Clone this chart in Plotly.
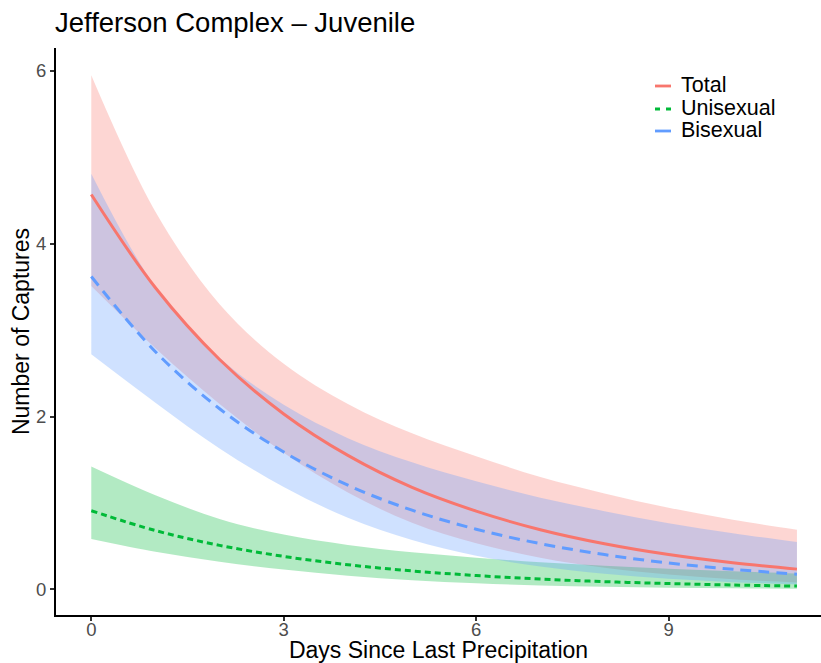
import plotly.graph_objects as go

# ---- data ----
days = [0, 1, 2, 3, 4, 5, 6, 7, 8, 9, 10, 11]

total_fit = [4.57, 3.49, 2.66, 2.03, 1.55, 1.18, 0.905, 0.69, 0.527, 0.402, 0.307, 0.234]
total_upper = [5.95, 4.37, 3.30, 2.61, 2.145, 1.805, 1.54, 1.30, 1.11, 0.945, 0.806, 0.69]
total_lower = [3.51, 2.79, 2.145, 1.58, 1.12, 0.771, 0.533, 0.366, 0.250, 0.171, 0.117, 0.0795]

uni_fit = [0.91, 0.68, 0.509, 0.381, 0.285, 0.213, 0.160, 0.119, 0.089, 0.067, 0.050, 0.0374]
uni_upper = [1.423, 1.09, 0.814, 0.634, 0.514, 0.429, 0.367, 0.314, 0.273, 0.239, 0.209, 0.182]
uni_lower = [0.582, 0.434, 0.318, 0.229, 0.158, 0.106, 0.0698, 0.0451, 0.029, 0.0188, 0.012, 0.0077]

bi_fit = [3.62, 2.75, 2.09, 1.59, 1.205, 0.916, 0.696, 0.529, 0.402, 0.305, 0.232, 0.176]
bi_upper = [4.81, 3.50, 2.68, 2.135, 1.75, 1.47, 1.25, 1.06, 0.904, 0.765, 0.650, 0.548]
bi_lower = [2.72, 2.16, 1.63, 1.184, 0.828, 0.570, 0.388, 0.264, 0.179, 0.1216, 0.0828, 0.0566]

series_names = ["Total", "Unisexual", "Bisexual"]
x_ticks = [0, 3, 6, 9]
y_ticks = [0, 2, 4, 6]

# ---- styles ----
FONT = "Liberation Sans, Arial, Helvetica, sans-serif"
colors = {"Total": "#F8766D", "Unisexual": "#00BA38", "Bisexual": "#619CFF"}
fills = {"Total": "rgba(248,118,109,0.3)", "Unisexual": "rgba(0,186,56,0.3)",
         "Bisexual": "rgba(97,156,255,0.3)"}
dashes = {"Total": "solid", "Unisexual": "6px,4px", "Bisexual": "11px,7px"}
widths = {"Total": 3, "Unisexual": 3, "Bisexual": 3}

data = {
    "Total": (total_fit, total_lower, total_upper),
    "Unisexual": (uni_fit, uni_lower, uni_upper),
    "Bisexual": (bi_fit, bi_lower, bi_upper),
}

fig = go.Figure()

# ribbons first (in factor order), then lines
for name in series_names:
    fit, lo, hi = data[name]
    fig.add_trace(go.Scatter(x=days, y=lo, mode="lines", line=dict(width=0, shape="spline"),
                             showlegend=False, hoverinfo="skip"))
    fig.add_trace(go.Scatter(x=days, y=hi, mode="lines", line=dict(width=0, shape="spline"),
                             fill="tonexty", fillcolor=fills[name], showlegend=False,
                             hoverinfo="skip"))

for name in series_names:
    fit, lo, hi = data[name]
    fig.add_trace(go.Scatter(x=days, y=fit, mode="lines", name=name,
                             line=dict(color=colors[name], width=widths[name],
                                       dash=dashes[name], shape="spline"),
                             showlegend=False))

# ---- manual legend (to match ggplot spacing) ----
W, H = 821, 663
L, R, T, B = 56, 0, 48, 48
pw, ph = W - L - R, H - T - B


def px_x(p):
    return (p - L) / pw


def px_y(p):
    return (H - B - p) / ph


leg_y = [86, 109, 131]
leg_dash = {"Total": "solid", "Unisexual": "5px,6px", "Bisexual": "solid"}
for name, yy in zip(series_names, leg_y):
    fig.add_shape(type="line", xref="paper", yref="paper",
                  x0=px_x(655), x1=px_x(671), y0=px_y(yy), y1=px_y(yy),
                  line=dict(color=colors[name], width=2.8, dash=leg_dash[name]))
    fig.add_annotation(text=name, xref="paper", yref="paper", x=px_x(679), y=px_y(yy - 1),
                       xanchor="left", yanchor="middle", showarrow=False,
                       font=dict(family=FONT, size=21.5, color="black"))

fig.update_layout(
    width=W, height=H,
    margin=dict(l=L, r=R, t=T, b=B, autoexpand=False),
    paper_bgcolor="white", plot_bgcolor="white",
    font=dict(family=FONT),
    title=dict(text="Jefferson Complex – Juvenile", xref="container", yref="container",
               x=55 / W, xanchor="left", y=1 - 22 / H, yanchor="middle",
               font=dict(family=FONT, size=27.5, color="black")),
    showlegend=False,
)
fig.update_xaxes(
    range=[-0.55, 11.375], tickmode="array", tickvals=x_ticks, ticktext=[str(t) for t in x_ticks],
    showline=True, linecolor="black", linewidth=2, mirror=False,
    ticks="outside", ticklen=4, tickwidth=1.5, tickcolor="#333333",
    tickfont=dict(family=FONT, size=18.5, color="#4D4D4D"), ticklabelstandoff=-7,
    showgrid=False, zeroline=False, automargin=False,
    title=dict(text="Days Since Last Precipitation", standoff=11,
               font=dict(family=FONT, size=23, color="black")),
)
fig.update_yaxes(
    range=[-0.297, 6.265], tickmode="array", tickvals=y_ticks, ticktext=[str(t) for t in y_ticks],
    showline=True, linecolor="black", linewidth=2, mirror=False,
    ticks="outside", ticklen=4, tickwidth=1.5, tickcolor="#333333",
    tickfont=dict(family=FONT, size=18.5, color="#4D4D4D"),
    showgrid=False, zeroline=False, automargin=False,
    title=dict(text="Number of Captures", standoff=0,
               font=dict(family=FONT, size=23, color="black")),
)

fig.write_html("out.html", config={"displayModeBar": False},
               post_script="document.body.style.margin='0px';")
